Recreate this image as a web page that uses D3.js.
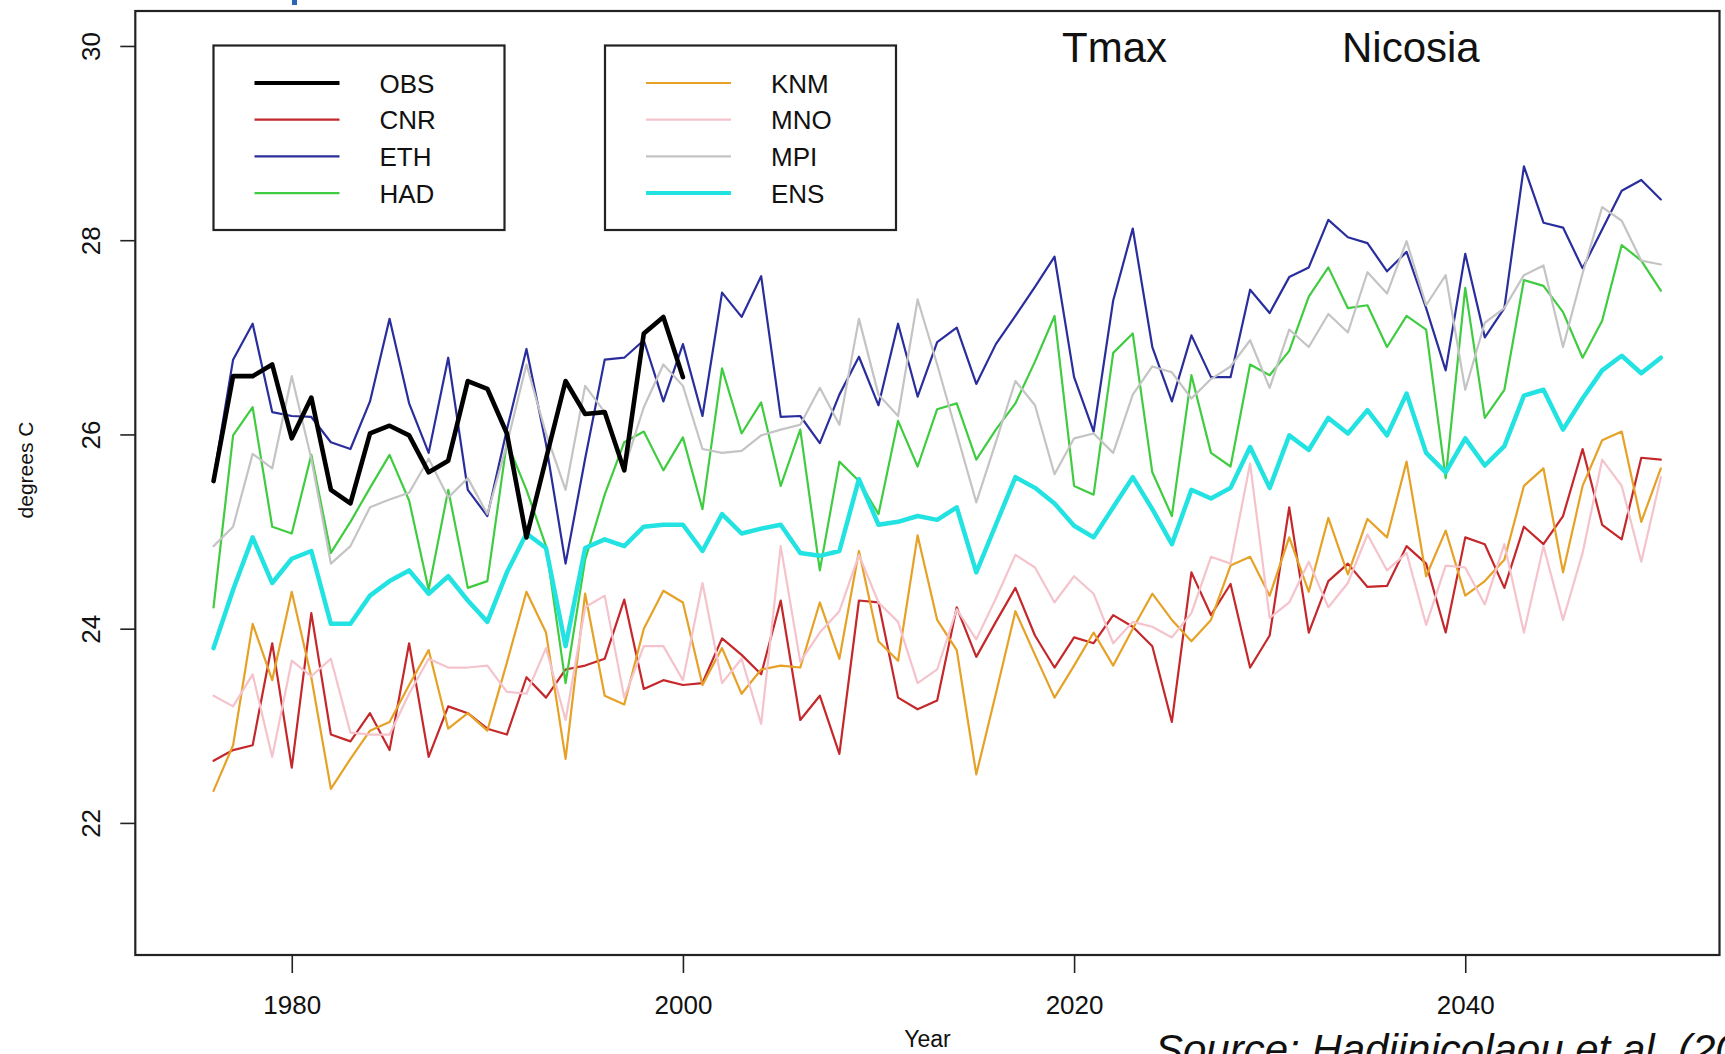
<!DOCTYPE html>
<html>
<head>
<meta charset="utf-8">
<script src="https://cdn.jsdelivr.net/npm/d3@7"></script>
<style>
  body { margin: 0; background: #fff; }
  svg { display: block; }
  text { font-family: "Liberation Sans", Arial, Helvetica, sans-serif; fill: #111; }
</style>
</head>
<body>
<div id="chart"></div>
<script>
// years of the model runs, obs only to 2000
var years = d3.range(1976, 2051);
var obsYears = d3.range(1976, 2001);

var OBS = [25.52, 26.60, 26.60, 26.72, 25.96, 26.38, 25.43, 25.29, 26.01, 26.09,
  25.99, 25.61, 25.73, 26.55, 26.47, 26.01, 24.94, 25.75, 26.55, 26.21,
  26.23, 25.63, 27.04, 27.21, 26.59];

var CNR = [22.64, 22.75, 22.80, 23.85, 22.57, 24.16, 22.91, 22.84, 23.13, 22.75,
  23.85, 22.68, 23.20, 23.13, 22.97, 22.91, 23.50, 23.29, 23.58, 23.62,
  23.69, 24.30, 23.38, 23.47, 23.42, 23.44, 23.90, 23.73, 23.53, 24.29,
  23.06, 23.31, 22.71, 24.29, 24.27, 23.29, 23.17, 23.26, 24.22, 23.71,
  24.07, 24.42, 23.93, 23.60, 23.91, 23.85, 24.14, 24.02, 23.82, 23.04,
  24.58, 24.14, 24.46, 23.60, 23.93, 25.25, 23.96, 24.49, 24.67, 24.43,
  24.44, 24.85, 24.67, 23.96, 24.94, 24.87, 24.42, 25.05, 24.87, 25.16,
  25.85, 25.07, 24.92, 25.76, 25.74];

var ETH = [25.55, 26.77, 27.14, 26.23, 26.19, 26.18, 25.92, 25.85, 26.34, 27.19,
  26.32, 25.81, 26.79, 25.43, 25.16, 26.05, 26.88, 25.90, 24.67, 25.75,
  26.77, 26.79, 26.97, 26.34, 26.93, 26.19, 27.46, 27.21, 27.63, 26.18,
  26.19, 25.91, 26.41, 26.80, 26.30, 27.14, 26.39, 26.95, 27.10, 26.52,
  26.93, 27.22, 27.52, 27.83, 26.59, 26.03, 27.38, 28.12, 26.90, 26.34,
  27.02, 26.59, 26.59, 27.49, 27.25, 27.62, 27.72, 28.21, 28.03, 27.97,
  27.68, 27.88, 27.30, 26.66, 27.86, 27.00, 27.30, 28.76, 28.18, 28.13,
  27.71, 28.11, 28.51, 28.62, 28.42];

var HAD = [24.22, 25.99, 26.28, 25.05, 24.98, 25.79, 24.78, 25.10, 25.45, 25.79,
  25.32, 24.40, 25.43, 24.42, 24.49, 25.92, 25.43, 24.85, 23.44, 24.71,
  25.38, 25.92, 26.03, 25.63, 25.97, 25.23, 26.68, 26.01, 26.33, 25.47,
  26.05, 24.60, 25.72, 25.52, 25.18, 26.14, 25.67, 26.26, 26.32, 25.74,
  26.05, 26.32, 26.75, 27.22, 25.47, 25.38, 26.84, 27.04, 25.61, 25.16,
  26.61, 25.81, 25.67, 26.72, 26.61, 26.86, 27.42, 27.72, 27.30, 27.33,
  26.90, 27.22, 27.08, 25.55, 27.51, 26.17, 26.46, 27.59, 27.53, 27.26,
  26.79, 27.17, 27.95, 27.79, 27.48];

var KNM = [22.33, 22.80, 24.05, 23.47, 24.38, 23.50, 22.35, 22.66, 22.95, 23.04,
  23.42, 23.78, 22.97, 23.13, 22.95, 23.65, 24.38, 23.96, 22.66, 24.36,
  23.31, 23.22, 24.00, 24.39, 24.27, 23.42, 23.80, 23.33, 23.58, 23.62,
  23.60, 24.27, 23.69, 24.80, 23.87, 23.67, 24.96, 24.09, 23.78, 22.50,
  23.33, 24.18, 23.73, 23.29, 23.62, 23.96, 23.62, 24.00, 24.36, 24.09,
  23.87, 24.09, 24.65, 24.74, 24.34, 24.94, 24.38, 25.14, 24.56, 25.13,
  24.94, 25.72, 24.54, 25.01, 24.34, 24.49, 24.71, 25.47, 25.65, 24.58,
  25.47, 25.94, 26.03, 25.10, 25.65];

var MNO = [23.31, 23.20, 23.53, 22.68, 23.67, 23.51, 23.69, 22.93, 22.91, 22.91,
  23.33, 23.69, 23.60, 23.60, 23.62, 23.35, 23.33, 23.80, 23.06, 24.22,
  24.34, 23.29, 23.82, 23.82, 23.47, 24.47, 23.44, 23.69, 23.02, 24.85,
  23.66, 23.96, 24.18, 24.76, 24.27, 24.07, 23.44, 23.58, 24.20, 23.89,
  24.31, 24.76, 24.63, 24.27, 24.54, 24.36, 23.85, 24.07, 24.02, 23.91,
  24.16, 24.74, 24.67, 25.70, 24.11, 24.27, 24.69, 24.22, 24.47, 24.97,
  24.60, 24.78, 24.04, 24.65, 24.63, 24.25, 24.87, 23.96, 24.85, 24.09,
  24.78, 25.74, 25.47, 24.69, 25.56];

var MPI = [24.85, 25.05, 25.80, 25.65, 26.60, 25.75, 24.67, 24.85, 25.25, 25.33,
  25.40, 25.75, 25.35, 25.55, 25.18, 25.90, 26.72, 26.01, 25.43, 26.50,
  26.23, 25.65, 26.28, 26.72, 26.50, 25.85, 25.81, 25.83, 25.99, 26.05,
  26.10, 26.48, 26.10, 27.19, 26.41, 26.19, 27.39, 26.72, 26.01, 25.30,
  25.92, 26.55, 26.30, 25.59, 25.96, 26.01, 25.81, 26.41, 26.70, 26.64,
  26.37, 26.57, 26.70, 26.97, 26.48, 27.08, 26.90, 27.24, 27.05, 27.67,
  27.45, 27.99, 27.33, 27.64, 26.46, 27.15, 27.30, 27.64, 27.74, 26.90,
  27.66, 28.34, 28.20, 27.79, 27.75];

var ENS = [23.80, 24.40, 24.94, 24.47, 24.72, 24.80, 24.05, 24.05, 24.34, 24.49,
  24.60, 24.36, 24.54, 24.29, 24.07, 24.58, 24.98, 24.83, 23.82, 24.83,
  24.92, 24.85, 25.05, 25.07, 25.07, 24.80, 25.18, 24.98, 25.03, 25.07,
  24.78, 24.75, 24.80, 25.54, 25.07, 25.10, 25.16, 25.12, 25.25, 24.58,
  25.07, 25.56, 25.45, 25.29, 25.06, 24.94, 25.25, 25.56, 25.23, 24.87,
  25.43, 25.34, 25.45, 25.87, 25.45, 25.99, 25.84, 26.17, 26.01, 26.25,
  25.99, 26.42, 25.81, 25.61, 25.96, 25.68, 25.88, 26.40, 26.46, 26.05,
  26.37, 26.66, 26.81, 26.63, 26.79];

var legendLeft = ["OBS", "CNR", "ETH", "HAD"];
var legendRight = ["KNM", "MNO", "MPI", "ENS"];
var yTicks = [22, 24, 26, 28, 30];
var xTicks = [1980, 2000, 2020, 2040];

var colors = {
  OBS: "#000000", CNR: "#c4282b", ETH: "#2a2e9c", HAD: "#40cc40",
  KNM: "#e6a127", MNO: "#f4c3cc", MPI: "#c4c4c4", ENS: "#22e2e2"
};
var widths = { OBS: 4.6, ENS: 4.5 };

var W = 1725, H = 1054;
var box = { left: 135.3, right: 1719.5, top: 11, bottom: 955 };

var svg = d3.select("#chart").append("svg")
  .attr("width", W).attr("height", H);
svg.append("rect").attr("width", W).attr("height", H).attr("fill", "#fff");

var x = d3.scaleLinear().domain([1972, 2053]).range([box.left, box.right]);
var y = d3.scaleLinear().domain([20.64, 30.36]).range([box.bottom, box.top]);

var line = d3.line()
  .x(function (d) { return x(d[0]); })
  .y(function (d) { return y(d[1]); });

// series, model runs first, obs on top
var series = [
  ["CNR", years, CNR], ["ETH", years, ETH], ["HAD", years, HAD],
  ["KNM", years, KNM], ["MNO", years, MNO], ["MPI", years, MPI],
  ["ENS", years, ENS], ["OBS", obsYears, OBS]
];

var plot = svg.append("g");
series.forEach(function (s) {
  var pts = s[1].map(function (yr, i) { return [yr, s[2][i]]; });
  plot.append("path")
    .datum(pts)
    .attr("d", line)
    .attr("fill", "none")
    .attr("stroke", colors[s[0]])
    .attr("stroke-width", widths[s[0]] || 2.2)
    .attr("stroke-linejoin", "round")
    .attr("stroke-linecap", "round");
});

// frame
svg.append("rect")
  .attr("x", box.left).attr("y", box.top)
  .attr("width", box.right - box.left).attr("height", box.bottom - box.top)
  .attr("fill", "none").attr("stroke", "#222").attr("stroke-width", 2.2);

// y axis
var yAxis = svg.append("g")
  .attr("transform", "translate(" + box.left + ",0)")
  .call(d3.axisLeft(y).tickValues(yTicks).tickSize(15).tickFormat(d3.format("d")));
yAxis.select(".domain").remove();
yAxis.selectAll("line").attr("stroke", "#222").attr("stroke-width", 1.6);
yAxis.selectAll("text")
  .attr("transform", "rotate(-90)")
  .attr("x", 0).attr("y", -35).attr("dy", 0)
  .attr("text-anchor", "middle")
  .style("font-size", "26px");

// x axis
var xAxis = svg.append("g")
  .attr("transform", "translate(0," + box.bottom + ")")
  .call(d3.axisBottom(x).tickValues(xTicks).tickSize(18).tickFormat(d3.format("d")));
xAxis.select(".domain").remove();
xAxis.selectAll("line").attr("stroke", "#222").attr("stroke-width", 1.6);
xAxis.selectAll("text")
  .attr("y", 59).attr("dy", 0)
  .style("font-size", "26px");

// axis titles
svg.append("text")
  .attr("x", (box.left + box.right) / 2).attr("y", 1047)
  .attr("text-anchor", "middle")
  .style("font-size", "23px")
  .text("Year");
svg.append("text")
  .attr("transform", "translate(33,470) rotate(-90)")
  .attr("text-anchor", "middle")
  .style("font-size", "21px")
  .text("degrees C");

// title words
svg.append("text").attr("x", 1062).attr("y", 62)
  .style("font-size", "42px").text("Tmax");
svg.append("text").attr("x", 1342).attr("y", 62)
  .style("font-size", "42px").text("Nicosia");

// legends
function legend(names, left) {
  var g = svg.append("g");
  g.append("rect")
    .attr("x", left).attr("y", 45.5)
    .attr("width", 291).attr("height", 184.5)
    .attr("fill", "#fff").attr("stroke", "#222").attr("stroke-width", 2.2);
  names.forEach(function (n, i) {
    var cy = 83 + i * 36.7;
    g.append("line")
      .attr("x1", left + 41).attr("x2", left + 126)
      .attr("y1", cy).attr("y2", cy)
      .attr("stroke", colors[n])
      .attr("stroke-width", widths[n] ? widths[n] - 0.5 : 2.2);
    g.append("text")
      .attr("x", left + 166).attr("y", cy + 9.5)
      .style("font-size", "26px")
      .text(n);
  });
}
legend(legendLeft, 213.5);
legend(legendRight, 605);

// page leftovers around the figure: caption cut by the bottom edge, blue mark above
svg.append("text")
  .attr("x", 1155).attr("y", 1064)
  .style("font-size", "42px").style("font-style", "italic")
  .text("Source: Hadjinicolaou et al. (2011)");
svg.append("rect")
  .attr("x", 292).attr("y", 0).attr("width", 5).attr("height", 5)
  .attr("fill", "#2a66b4");
</script>
</body>
</html>
